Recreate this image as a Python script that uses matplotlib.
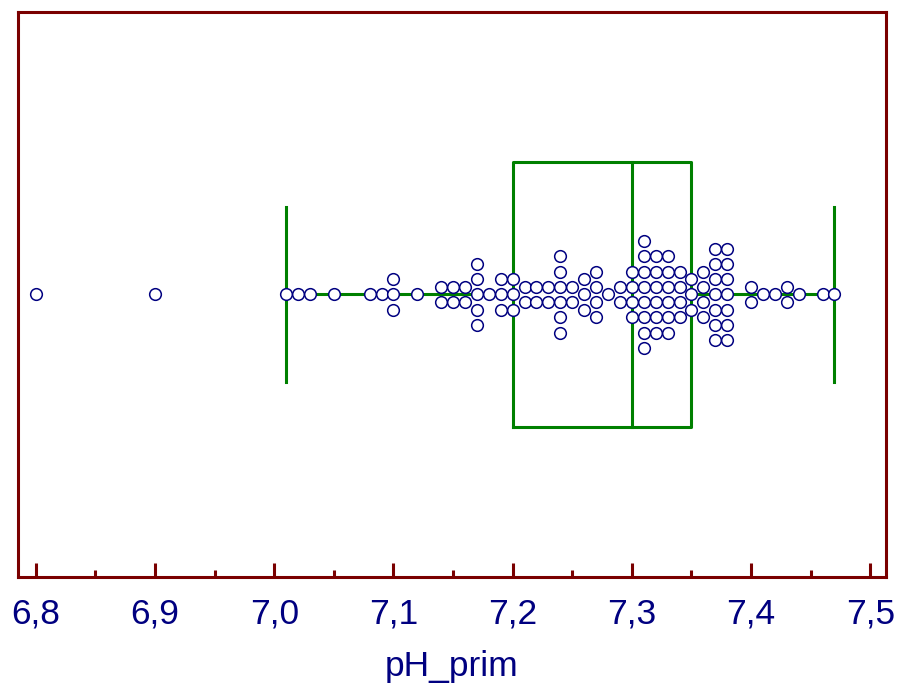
import numpy as np
import matplotlib.pyplot as plt

plt.rcParams['font.family'] = ['Liberation Sans', 'DejaVu Sans']

# pH values and how many times each occurs
ph_values = [6.80, 6.90, 7.01, 7.02, 7.03, 7.05, 7.08, 7.09, 7.10, 7.12,
             7.14, 7.15, 7.16, 7.17, 7.18, 7.19, 7.20, 7.21, 7.22, 7.23,
             7.24, 7.25, 7.26, 7.27, 7.28, 7.29, 7.30, 7.31, 7.32, 7.33,
             7.34, 7.35, 7.36, 7.37, 7.38, 7.40, 7.41, 7.42, 7.43, 7.44,
             7.46, 7.47]
ph_counts = [1, 1, 1, 1, 1, 1, 1, 1, 3, 1,
             2, 2, 2, 5, 1, 3, 3, 2, 2, 2,
             6, 2, 3, 4, 1, 2, 4, 8, 6, 6,
             4, 3, 4, 7, 7, 2, 1, 1, 2, 1,
             1, 1]

# box-plot summary
whisker_low = 7.01
q1 = 7.20
median = 7.30
q3 = 7.35
whisker_high = 7.47

tick_values = [6.8, 6.9, 7.0, 7.1, 7.2, 7.3, 7.4, 7.5]
tick_labels = ['6,8', '6,9', '7,0', '7,1', '7,2', '7,3', '7,4', '7,5']

green = '#008000'
frame = '#7a0000'
navy = '#000080'

fig = plt.figure(figsize=(9, 6.89), dpi=100)
ax = fig.add_axes([0.02, 0.1626, 0.9644, 0.82])

# box
box_h = 0.47
cap_h = 0.31
ax.plot([q1, q3, q3, q1, q1], [-box_h, -box_h, box_h, box_h, -box_h],
        color=green, lw=2.2, zorder=2)
ax.plot([median, median], [-box_h, box_h], color=green, lw=2.2, zorder=2)
ax.plot([whisker_low, q1], [0, 0], color=green, lw=2.2, zorder=2)
ax.plot([q3, whisker_high], [0, 0], color=green, lw=2.2, zorder=2)
ax.plot([whisker_low, whisker_low], [-cap_h, cap_h], color=green, lw=2.2, zorder=2)
ax.plot([whisker_high, whisker_high], [-cap_h, cap_h], color=green, lw=2.2, zorder=2)

# stacked dots
step = 0.054
xs, ys = [], []
for v, n in zip(ph_values, ph_counts):
    for i in range(n):
        xs.append(v)
        ys.append((i - (n - 1) / 2) * step)
ax.plot(xs, ys, 'o', ms=8.4, mfc='white', mec=navy, mew=1.1, zorder=3)

ax.set_xlim(6.785, 7.5132)
ax.set_ylim(-1.0, 1.0)
ax.set_yticks([])
ax.set_xticks(tick_values)
ax.set_xticklabels(tick_labels)
ax.set_xticks(np.arange(6.85, 7.5, 0.1), minor=True)
ax.tick_params(axis='x', which='major', direction='in', length=10, width=2.2,
               color=frame, labelsize=25.5, labelcolor=navy, pad=15)
ax.tick_params(axis='x', which='minor', direction='in', length=5, width=2.2,
               color=frame)
for s in ax.spines.values():
    s.set_color(frame)
    s.set_linewidth(2.2)

ax.set_xlabel('pH_prim', fontsize=25.5, color=navy, labelpad=14)

fig.savefig('out.png', dpi=100)
